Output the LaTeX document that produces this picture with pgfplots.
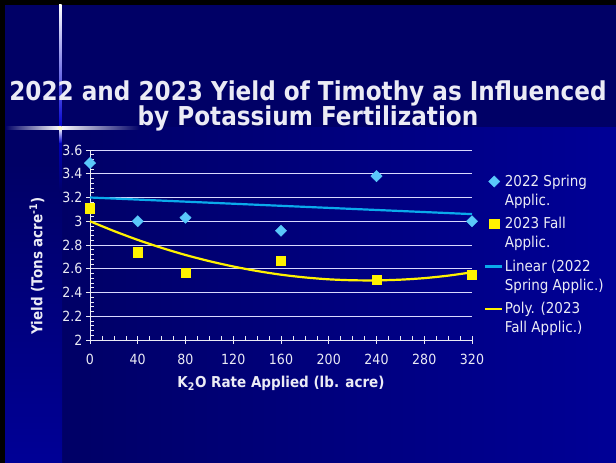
\documentclass[border=0pt]{standalone}
\usepackage{pgfplots}
\pgfplotsset{compat=1.18}
\usepackage{fontspec}
\setmainfont{DejaVu Sans}[FakeStretch=0.9]
\newfontfamily\titlefont{DejaVu Sans}[FakeStretch=0.89]
\definecolor{bgdark}{RGB}{0,0,102}
\definecolor{bgmid}{RGB}{0,0,150}
\definecolor{springc}{RGB}{90,200,250}
\definecolor{linc}{RGB}{10,170,235}
\definecolor{txt}{RGB}{235,235,245}
\pgfplotsset{
  markleg/.style={legend image code/.code={\path[draw=none,fill=none] (0pt,-18pt) rectangle (17pt,18pt);\draw[##1] plot coordinates {(9.5pt,9.5pt)};}},
  lineleg/.style={legend image code/.code={\path[draw=none,fill=none] (0pt,-18pt) rectangle (17pt,18pt);\draw[##1] (0pt,9.5pt) -- (17pt,9.5pt);}},
}
\begin{document}
\begin{tikzpicture}[x=1pt,y=1pt]
\fill[black] (0,0) rectangle (616,463);
\fill[bgdark] (5,0) rectangle (616,458);
\shade[left color=bgdark, right color=bgmid] (62,0) rectangle (616,335);
\shade[top color=bgdark, bottom color=bgmid] (5,0) rectangle (62,300);
% flare
\shade[left color=bgdark, right color=white] (5,333.8) rectangle (60,336.2);
\shade[left color=white, right color=bgdark] (60,333.8) rectangle (140,336.2);
\shade[bottom color=blue!70!bgdark, top color=white] (59,335) rectangle (61.5,458);
\shade[top color=blue!70!bgdark, bottom color=bgdark] (59,270) rectangle (61.5,335);
\shade[top color=white, bottom color=blue!70!bgdark] (59,320) rectangle (61.5,335);
\fill[white!80!yellow] (60.2,335) circle (2.2);
% title
\node[text=txt, align=center, font=\titlefont\bfseries\fontsize{26}{25.5}\selectfont] at (308,357) {2022 and 2023 Yield of Timothy as Influenced\\by Potassium Fertilization};
% y label
\node[rotate=90, text=txt, font=\bfseries\fontsize{15}{17}\selectfont] at (37,197) {Yield (Tons acre\textsuperscript{-1})};
\begin{axis}[
  at={(90pt,123pt)}, anchor=south west, scale only axis,
  width=382pt, height=190pt,
  xmin=0, xmax=320, ymin=2, ymax=3.6,
  xtick={0,40,...,320}, ytick={2,2.2,2.4,2.6,2.8,3,3.2,3.4,3.6},
  minor x tick num=3, minor y tick num=4,
  axis x line=bottom, axis y line=left,
  axis line style={-, txt, line width=0.8pt},
  tick style={txt, line width=0.6pt},
  tick align=center,
  major tick length=8pt, minor tick length=4pt,
  minor x tick style={yshift=2pt}, minor y tick style={xshift=2pt},
  ymajorgrids, grid style={white!85!blue, line width=0.8pt},
  clip=false,
  /pgf/number format/assume math mode=true,
  ticklabel style={text=txt, font=\fontsize{14}{16}\selectfont},
  xticklabel style={yshift=-7pt},
  xlabel={K\textsubscript{2}O Rate Applied (lb. acre)},
  xlabel style={text=txt, font=\bfseries\fontsize{15}{17}\selectfont, yshift=-4pt},
  legend style={at={(1.03,0.88)}, anchor=north west, draw=none, fill=none,
    nodes={align=left, text=txt, font=\fontsize{15}{19}\selectfont, anchor=west},
    row sep=6.5pt, inner sep=0pt},
  legend cell align=left,
]
\addplot[only marks, mark=diamond*, mark size=5.6pt, mark options={xscale=1.35}, springc, markleg]
  coordinates {(0,3.49) (40,3.00) (80,3.03) (160,2.92) (240,3.38) (320,3.00)};
\addlegendentry{2022 Spring\\Applic.}
\addplot[only marks, mark=square*, mark size=4.6pt, yellow, markleg]
  coordinates {(0,3.11) (40,2.74) (80,2.57) (160,2.67) (240,2.51) (320,2.55)};
\addlegendentry{2023 Fall\\Applic.}
\addplot[linc, line width=2.2pt, no marks, lineleg]
  coordinates {(0,3.20) (320,3.06)};
\addlegendentry{Linear (2022\\Spring Applic.)}
\addplot[yellow, line width=2.2pt, no marks, smooth, lineleg]
  coordinates {(0,3.000) (20,2.918) (40,2.843) (60,2.776) (80,2.716) (100,2.664) (120,2.619) (140,2.581) (160,2.550) (180,2.527) (200,2.511) (220,2.503) (240,2.502) (260,2.508) (280,2.521) (300,2.542) (320,2.570)};
\addlegendentry{Poly. (2023\\Fall Applic.)}
\end{axis}
\end{tikzpicture}
\end{document}
